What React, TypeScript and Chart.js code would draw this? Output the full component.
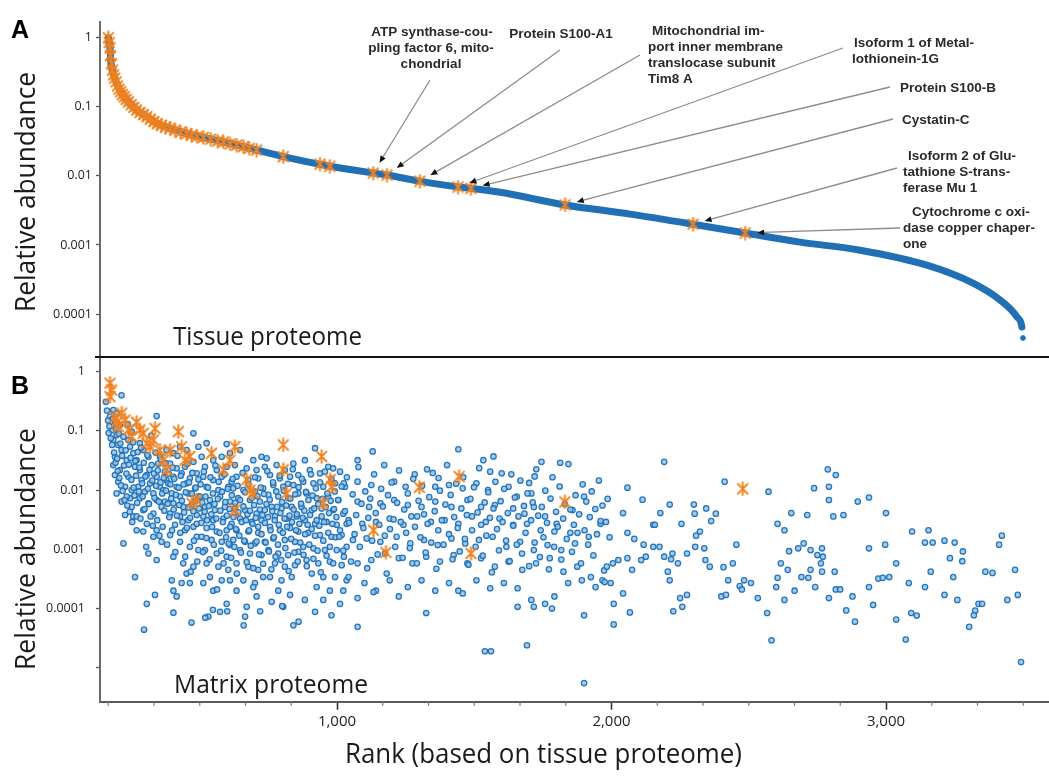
import React, { useEffect, useRef } from "react";
import { Chart, registerables } from "chart.js";

Chart.register(...registerables);

// ---------------- DATA ----------------
// Panel A: tissue proteome ranked abundance curve (rank, relative abundance)
const tissueRank = [167, 173, 176, 185, 197, 216, 240, 270, 307, 343, 392, 452, 513, 586, 659, 707, 804, 950, 1132, 1182, 1302, 1441, 1488, 1594, 1831, 2068, 2297, 2487, 2687, 2906, 3149, 3317, 3415, 3477, 3495, 3499];
const tissueAbundance = [1.0, 0.71, 0.45, 0.305, 0.219, 0.157, 0.119, 0.09, 0.072, 0.058, 0.049, 0.041, 0.036, 0.031, 0.0265, 0.0237, 0.019, 0.0144, 0.011, 0.0103, 0.0084, 0.0069, 0.0066, 0.0058, 0.0038, 0.0028, 0.002, 0.00149, 0.0011, 0.00084, 0.00051, 0.00028, 0.00016, 0.000091, 0.000065, 0.000045];

// Panel A: proteins marked with an asterisk (rank, abundance)
const tissueMarked: [number, number][] = [
  [167, 1.0], [170, 0.85], [173, 0.71], [175, 0.55], [178, 0.42], [182, 0.34], [186, 0.29], [190, 0.26], [195, 0.23], [200, 0.2],
  [206, 0.18], [212, 0.165], [218, 0.15], [225, 0.14], [232, 0.128], [240, 0.118], [250, 0.107], [260, 0.098], [270, 0.09], [282, 0.083],
  [295, 0.077], [307, 0.072], [320, 0.066], [333, 0.061], [345, 0.057], [360, 0.054], [375, 0.051], [392, 0.049], [410, 0.046], [430, 0.043],
  [452, 0.041], [470, 0.039], [490, 0.037], [513, 0.036], [540, 0.034], [565, 0.032], [586, 0.031], [610, 0.029], [635, 0.028], [659, 0.0265],
  [680, 0.025], [707, 0.0237], [804, 0.019], [938, 0.0148], [974, 0.0138],
];

// Panel A: labelled proteins
const labelledNames = [
  ["ATP synthase-cou-", "pling factor 6, mito-", "chondrial"],
  ["Protein S100-A1"],
  ["Mitochondrial im-", "port inner membrane", "translocase subunit", "Tim8 A"],
  ["Isoform 1 of Metal-", "lothionein-1G"],
  ["Protein S100-B"],
  ["Cystatin-C"],
  ["Isoform 2 of Glu-", "tathione S-trans-", "ferase Mu 1"],
  ["Cytochrome c oxi-", "dase copper chaper-", "one"],
];
const labelledRank = [1132, 1182, 1302, 1441, 1488, 1831, 2297, 2487];
const labelledAbundance = [0.011, 0.0103, 0.0084, 0.0069, 0.0066, 0.0038, 0.002, 0.00149];

// Panel B: matrix proteome (rank from tissue, abundance in matrix)
const matrixPoints: [number, number][] = [
  [215, 0.40], [185, 0.225], [197, 0.198], [173, 0.174], [191, 0.143], [209, 0.126], [179, 0.103], [197, 0.085], [222, 0.08], [185, 0.07],
  [203, 0.058], [215, 0.0475], [191, 0.0366], [234, 0.032], [185, 0.0265], [209, 0.0218], [191, 0.018], [240, 0.0168], [203, 0.0139], [228, 0.0114],
  [252, 0.01], [197, 0.0088], [246, 0.0073], [215, 0.0064], [228, 0.0038], [258, 0.0036], [264, 0.00034], [222, 0.00126], [270, 0.0021], [252, 0.0052],
  [234, 0.0078], [264, 0.0248], [258, 0.042], [246, 0.054], [240, 0.07], [252, 0.097],
  [343, 0.178], [282, 0.062], [294, 0.0475], [313, 0.0366], [270, 0.032], [325, 0.0265], [282, 0.0218], [307, 0.018], [343, 0.0168], [288, 0.0148],
  [276, 0.0114], [319, 0.013], [355, 0.0114], [300, 0.0094], [331, 0.0088], [367, 0.01], [282, 0.0073], [313, 0.006], [343, 0.0068], [373, 0.0064],
  [294, 0.0046], [331, 0.004], [361, 0.0052], [270, 0.0036], [307, 0.0027], [343, 0.0021], [294, 0.002], [331, 0.00163], [361, 0.00134], [313, 0.00085],
  [343, 0.00066], [307, 0.00012], [337, 0.00017], [379, 0.0475], [355, 0.0366], [373, 0.0205], [379, 0.0148], [349, 0.028], [297, 0.000044],
  [477, 0.091], [428, 0.054], [404, 0.042], [452, 0.0475], [495, 0.054], [392, 0.028], [416, 0.0233], [446, 0.0248], [477, 0.03], [404, 0.0168],
  [434, 0.0192], [464, 0.0158], [489, 0.0192], [385, 0.013], [416, 0.0114], [452, 0.013], [483, 0.0107], [398, 0.0088], [428, 0.0078], [458, 0.0088],
  [495, 0.0078], [404, 0.006], [440, 0.0052], [470, 0.0056], [392, 0.004], [428, 0.0036], [458, 0.0031], [489, 0.0038], [410, 0.0026], [446, 0.0021],
  [477, 0.0024], [392, 0.00174], [428, 0.00134], [464, 0.0011], [495, 0.00097], [404, 0.00075], [440, 0.00058], [477, 0.00051], [398, 0.0003], [434, 0.00027],
  [464, 0.00027], [416, 0.00016], [470, 0.000058], [404, 0.0002], [452, 0.00039], [489, 0.00163],
  [525, 0.062], [598, 0.06], [507, 0.0366], [549, 0.032], [580, 0.0366], [610, 0.042], [519, 0.0248], [562, 0.0218], [598, 0.0248], [513, 0.0168],
  [549, 0.0148], [580, 0.0168], [616, 0.0139], [525, 0.0114], [568, 0.01], [604, 0.0114], [501, 0.0078], [537, 0.0068], [574, 0.0078], [610, 0.0064],
  [519, 0.0052], [555, 0.0046], [592, 0.0052], [513, 0.0036], [549, 0.0031], [586, 0.0033], [616, 0.0027], [525, 0.0023], [562, 0.002], [598, 0.0021],
  [507, 0.00163], [543, 0.00144], [580, 0.00134], [610, 0.00118], [519, 0.00097], [562, 0.00085], [598, 0.00075], [525, 0.00058], [568, 0.00051], [604, 0.00045],
  [537, 0.00034], [580, 0.0003], [549, 0.0002], [598, 0.00012], [531, 0.000073], [574, 0.000088], [610, 0.0003], [513, 0.00027],
  [647, 0.0475], [695, 0.032], [725, 0.0366], [628, 0.0265], [671, 0.0233], [707, 0.0218], [737, 0.0248], [634, 0.0168], [677, 0.0148], [713, 0.0158],
  [622, 0.0107], [659, 0.01], [701, 0.0094], [731, 0.0107], [640, 0.0073], [683, 0.0068], [719, 0.0064], [628, 0.0049], [665, 0.0046], [707, 0.004],
  [737, 0.0046], [647, 0.0033], [689, 0.0029], [725, 0.0031], [634, 0.0021], [677, 0.002], [713, 0.0019], [622, 0.00144], [665, 0.00134], [701, 0.00126],
  [737, 0.00134], [647, 0.00097], [683, 0.00085], [725, 0.0008], [634, 0.00058], [677, 0.00051], [713, 0.00045], [659, 0.0003], [701, 0.00027], [731, 0.00034],
  [634, 0.0002], [671, 0.000107], [707, 0.00016], [665, 0.000073], [695, 0.00023],
  [744, 0.0344], [841, 0.028], [780, 0.0265], [810, 0.0218], [756, 0.018], [792, 0.0158], [829, 0.0168], [859, 0.018], [768, 0.0122], [804, 0.0114],
  [841, 0.0122], [750, 0.0083], [786, 0.0078], [822, 0.0073], [859, 0.0088], [762, 0.0052], [798, 0.0049], [835, 0.0052], [774, 0.0036], [816, 0.0033],
  [853, 0.0036], [756, 0.0024], [792, 0.0021], [829, 0.0023], [859, 0.002], [768, 0.00153], [810, 0.00144], [847, 0.00134], [750, 0.00097], [786, 0.00085],
  [822, 0.0008], [859, 0.00091], [774, 0.00058], [810, 0.00051], [847, 0.00054], [756, 0.00034], [798, 0.0003], [835, 0.00034], [786, 0.0002], [829, 0.00017],
  [841, 0.000052], [762, 0.00013], [804, 0.000107],
  [920, 0.051], [968, 0.0248], [986, 0.0233], [883, 0.032], [901, 0.0218], [938, 0.0192], [1011, 0.0205], [877, 0.0139], [914, 0.013], [950, 0.0114],
  [993, 0.013], [1029, 0.0114], [889, 0.0088], [926, 0.0073], [968, 0.0078], [1005, 0.0068], [871, 0.0052], [908, 0.0046], [944, 0.0049], [986, 0.0046],
  [1023, 0.004], [883, 0.0031], [920, 0.0027], [962, 0.0029], [999, 0.0026], [1035, 0.0027], [895, 0.0019], [938, 0.00174], [980, 0.00163], [1017, 0.00174],
  [877, 0.0011], [914, 0.00104], [956, 0.00097], [999, 0.00097], [1035, 0.0011], [889, 0.00066], [932, 0.00058], [974, 0.00062], [1017, 0.00054], [908, 0.00039],
  [950, 0.00034], [993, 0.00034], [1035, 0.0003], [926, 0.00023], [974, 0.0002], [1023, 0.0002], [920, 0.000088], [980, 0.000077], [883, 0.00014], [950, 0.00014],
  [1011, 0.00012],
  // extra readings, ranks 150-500
  [158, 0.31], [162, 0.22], [166, 0.15], [168, 0.092], [171, 0.12], [176, 0.075], [181, 0.058], [183, 0.16], [188, 0.043], [193, 0.029],
  [195, 0.11], [199, 0.034], [201, 0.021], [205, 0.09], [207, 0.016], [211, 0.061], [213, 0.012], [217, 0.038], [219, 0.0097], [224, 0.026],
  [226, 0.0068], [230, 0.047], [233, 0.019], [236, 0.0055], [238, 0.13], [242, 0.027], [245, 0.0043], [248, 0.035], [251, 0.015], [254, 0.0029],
  [257, 0.064], [259, 0.011], [262, 0.0081], [265, 0.031], [268, 0.0175], [272, 0.0061], [274, 0.044], [278, 0.0095], [280, 0.024], [284, 0.0033],
  [286, 0.052], [290, 0.013], [292, 0.0078], [296, 0.029], [299, 0.0048], [302, 0.017], [305, 0.0011], [309, 0.039], [311, 0.0105], [315, 0.0058],
  [317, 0.022], [321, 0.0036], [323, 0.083], [327, 0.0145], [329, 0.0025], [333, 0.019], [335, 0.0074], [339, 0.043], [341, 0.0118], [345, 0.0031],
  [347, 0.0215], [351, 0.0064], [353, 0.0017], [357, 0.0135], [359, 0.033], [363, 0.0088], [365, 0.0024], [369, 0.016], [371, 0.0045], [375, 0.0285],
  [377, 0.0098], [381, 0.0012], [383, 0.0059], [387, 0.019], [389, 0.0035], [393, 0.0125], [396, 0.0072], [399, 0.0021], [401, 0.024], [405, 0.0047],
  [407, 0.0155], [411, 0.0009], [413, 0.0083], [417, 0.0037], [419, 0.038], [423, 0.011], [425, 0.0056], [429, 0.0019], [431, 0.0175], [435, 0.0066],
  [437, 0.0029], [441, 0.0125], [443, 0.0042], [447, 0.00075], [449, 0.0092], [453, 0.0023], [455, 0.028], [459, 0.0051], [461, 0.0135], [465, 0.0034],
  [467, 0.00042], [471, 0.0087], [473, 0.0195], [477, 0.0044], [479, 0.0014], [483, 0.0065], [485, 0.011], [489, 0.0027], [491, 0.00062], [495, 0.0152],
  [497, 0.0049], [404, 0.000085], [520, 0.00007], [548, 0.000095], [600, 0.00009], [660, 0.000052], [720, 0.00009], [800, 0.00011], [860, 0.00006],
  // extra readings, ranks 500-1000
  [503, 0.0125], [506, 0.0028], [509, 0.0062], [512, 0.0009], [515, 0.0205], [518, 0.0043], [521, 0.0078], [524, 0.00155], [527, 0.0031], [530, 0.011],
  [533, 0.0054], [536, 0.00068], [539, 0.0165], [542, 0.0039], [545, 0.0024], [548, 0.0088], [551, 0.0012], [554, 0.0058], [557, 0.026], [560, 0.0033],
  [563, 0.00021], [566, 0.0071], [569, 0.0138], [572, 0.0019], [575, 0.0045], [578, 0.00095], [581, 0.0094], [584, 0.0029], [587, 0.00058], [590, 0.0185],
  [593, 0.0063], [596, 0.0016], [599, 0.0037], [602, 0.0105], [605, 0.00125], [608, 0.0048], [611, 0.0024], [614, 0.00072], [617, 0.0082], [620, 0.0155],
  [623, 0.0035], [626, 0.0011], [629, 0.0061], [632, 0.0022], [635, 0.00039], [638, 0.0118], [641, 0.0042], [644, 0.0017], [647, 0.0068], [650, 0.00088],
  [653, 0.0029], [656, 0.0195], [659, 0.0053], [662, 0.0014], [665, 0.0092], [668, 0.0031], [671, 0.00061], [674, 0.0039], [677, 0.0125], [680, 0.0021],
  [683, 0.0045], [686, 0.00115], [689, 0.0074], [692, 0.0027], [695, 0.00048], [698, 0.0056], [701, 0.0165], [704, 0.0034], [707, 0.00135], [710, 0.0079],
  [713, 0.0024], [716, 0.00082], [719, 0.0047], [722, 0.011], [725, 0.0018], [728, 0.0038], [731, 0.00057], [734, 0.0086], [737, 0.0028], [740, 0.0013],
  [743, 0.0058], [746, 0.021], [749, 0.0035], [752, 0.00092], [755, 0.0069], [758, 0.0021], [761, 0.00046], [764, 0.0044], [767, 0.0135], [770, 0.0016],
  [773, 0.0031], [776, 0.00075], [779, 0.0095], [782, 0.0052], [785, 0.0012], [788, 0.0026], [791, 0.0175], [794, 0.0041], [797, 0.00066], [800, 0.0063],
  [803, 0.0019], [806, 0.0098], [809, 0.0033], [812, 0.00105], [815, 0.0055], [818, 0.0024], [821, 0.0128], [824, 0.00043], [827, 0.0037], [830, 0.0072],
  [833, 0.0015], [836, 0.0029], [839, 0.0225], [842, 0.0047], [845, 0.00088], [848, 0.0085], [851, 0.0021], [854, 0.0039], [857, 0.00062], [860, 0.0112],
  [863, 0.0027], [866, 0.0013], [869, 0.0059], [872, 0.0155], [875, 0.0034], [878, 0.00081], [881, 0.0045], [884, 0.0018], [887, 0.0093], [890, 0.00052],
  [893, 0.0026], [896, 0.0068], [899, 0.0012], [902, 0.0038], [905, 0.0185], [908, 0.0022], [911, 0.0081], [914, 0.00069], [917, 0.0049], [920, 0.0017],
  [923, 0.0107], [926, 0.0031], [929, 0.00095], [932, 0.0058], [935, 0.0025], [938, 0.0135], [941, 0.00041], [944, 0.0036], [947, 0.0071], [950, 0.0014],
  [953, 0.0029], [956, 0.0205], [959, 0.0052], [962, 0.00078], [965, 0.0088], [968, 0.0019], [971, 0.0041], [974, 0.0011], [977, 0.0066], [980, 0.0155],
  [983, 0.0027], [986, 0.00058], [989, 0.0048], [992, 0.0095], [995, 0.0016], [998, 0.0035],
  // ranks 1000-2000
  [1075, 0.032], [1130, 0.045], [1172, 0.0265], [1283, 0.0185], [1328, 0.0224], [1370, 0.016], [1442, 0.049], [1533, 0.032], [1570, 0.037], [1558, 0.0205],
  [1600, 0.0192], [1745, 0.03], [1813, 0.029], [1720, 0.017], [1700, 0.0132], [1625, 0.0114], [1655, 0.0078], [1717, 0.0052], [1758, 0.0036], [1800, 0.0027],
  [1858, 0.0046], [1708, 0.0088], [1025, 0.013], [1075, 0.0139], [1125, 0.0122], [1208, 0.0139], [1250, 0.0114], [1358, 0.0114], [1408, 0.0122], [1458, 0.0107],
  [1508, 0.013], [1550, 0.01], [1075, 0.0064], [1117, 0.0052], [1158, 0.006], [1208, 0.0068], [1258, 0.0056], [1308, 0.0052], [1358, 0.0064], [1417, 0.0052],
  [1475, 0.0068], [1525, 0.0052], [1575, 0.0056], [1642, 0.0049], [1683, 0.004], [1042, 0.0031], [1092, 0.0027], [1142, 0.0029], [1192, 0.0033], [1242, 0.0026],
  [1292, 0.0036], [1342, 0.0029], [1392, 0.0031], [1442, 0.0027], [1492, 0.0036], [1542, 0.0029], [1592, 0.0033], [1642, 0.0026], [1692, 0.0027], [1742, 0.0021],
  [1792, 0.002], [1850, 0.0019], [1008, 0.00163], [1058, 0.00144], [1108, 0.00153], [1158, 0.00134], [1217, 0.00163], [1267, 0.00126], [1317, 0.00144], [1367, 0.00118],
  [1417, 0.00153], [1467, 0.00126], [1517, 0.00144], [1567, 0.00163], [1617, 0.0011], [1667, 0.00134], [1717, 0.00097], [1767, 0.00118], [1817, 0.00097], [1867, 0.00126],
  [1917, 0.00163], [1025, 0.00075], [1075, 0.00058], [1125, 0.00066], [1175, 0.00085], [1225, 0.00071], [1275, 0.00058], [1325, 0.00075], [1375, 0.00062], [1425, 0.0008],
  [1475, 0.00058], [1525, 0.00071], [1575, 0.00051], [1625, 0.00062], [1675, 0.00045], [1725, 0.00058], [1775, 0.00071], [1825, 0.00042], [1875, 0.00051], [1925, 0.00034],
  [1967, 0.0003], [1042, 0.00034], [1100, 0.00027], [1142, 0.0002], [1192, 0.0003], [1258, 0.00023], [1308, 0.0003], [1358, 0.0002], [1408, 0.00027], [1458, 0.00018],
  [1508, 0.0003], [1558, 0.00022], [1608, 0.00027], [1658, 0.00022], [1708, 0.00014], [1758, 0.00012], [1792, 0.00016], [1842, 0.00027], [1892, 0.0003], [1942, 0.00023],
  [1075, 0.00015], [1133, 0.00019], [1225, 0.00016], [1325, 0.000084], [1442, 0.0002], [1658, 0.000107], [1717, 0.000107], [1783, 0.0001], [1075, 0.000049],
  [1692, 0.000024], [1539, 0.000019], [1561, 0.000019], [1900, 0.0000055], [1900, 0.000077], [1900, 0.0078],
  [1004, 0.0068], [1011, 0.0021], [1017, 0.0115], [1023, 0.00095], [1029, 0.0044], [1036, 0.0165], [1044, 0.0028], [1051, 0.00062], [1057, 0.0085], [1064, 0.0018],
  [1070, 0.0038], [1078, 0.0245], [1083, 0.0011], [1089, 0.0059], [1096, 0.0023], [1103, 0.0095], [1110, 0.00048], [1114, 0.0034], [1121, 0.0072], [1128, 0.0014],
  [1135, 0.0185], [1141, 0.0041], [1148, 0.00082], [1154, 0.0026], [1161, 0.0105], [1167, 0.0053], [1174, 0.0017], [1181, 0.00039], [1186, 0.0082], [1193, 0.0022],
  [1199, 0.0135], [1206, 0.0032], [1212, 0.0011], [1219, 0.0061], [1226, 0.0215], [1232, 0.0029], [1239, 0.00072], [1245, 0.0047], [1252, 0.0019], [1258, 0.0088],
  [1265, 0.00105], [1271, 0.0036], [1278, 0.0155], [1284, 0.0024], [1291, 0.00058], [1297, 0.0066], [1304, 0.0016], [1310, 0.0118], [1317, 0.0039], [1323, 0.00088],
  [1330, 0.0027], [1336, 0.0076], [1343, 0.0013], [1349, 0.0195], [1356, 0.0044], [1362, 0.00047], [1369, 0.0021], [1375, 0.0098], [1382, 0.0031], [1388, 0.0012],
  [1395, 0.0057], [1401, 0.0265], [1408, 0.0018], [1414, 0.0083], [1421, 0.00068], [1427, 0.0035], [1434, 0.0128], [1440, 0.0023], [1447, 0.00092], [1453, 0.0049],
  [1460, 0.0165], [1466, 0.0015], [1473, 0.0038], [1479, 0.00055], [1486, 0.0071], [1492, 0.0021], [1499, 0.0112], [1505, 0.0011], [1512, 0.0042], [1518, 0.0235],
  [1525, 0.0026], [1531, 0.00078], [1538, 0.0062], [1544, 0.0017], [1551, 0.0092], [1557, 0.0034], [1564, 0.00041], [1570, 0.0049], [1577, 0.0138], [1583, 0.0022],
  [1590, 0.00096], [1596, 0.0065], [1603, 0.0029], [1609, 0.0105], [1616, 0.0014], [1622, 0.0041], [1629, 0.00063], [1635, 0.0185], [1642, 0.0025], [1648, 0.0075],
  [1655, 0.0012], [1661, 0.0036], [1668, 0.0145], [1674, 0.00085], [1681, 0.0054], [1687, 0.0019], [1694, 0.0088], [1700, 0.00052], [1707, 0.0031], [1713, 0.0062],
  [1720, 0.0013], [1726, 0.0225], [1733, 0.0037], [1739, 0.00074], [1746, 0.0052], [1752, 0.0016], [1759, 0.0098], [1765, 0.0028], [1772, 0.00046], [1778, 0.0072],
  [1785, 0.0165], [1791, 0.0011], [1798, 0.0043], [1804, 0.0024], [1811, 0.0115], [1817, 0.00067], [1824, 0.0033], [1830, 0.0058], [1837, 0.0015], [1843, 0.0275],
  [1850, 0.0047], [1856, 0.00091], [1863, 0.0026], [1869, 0.0082], [1876, 0.0019], [1882, 0.0039], [1889, 0.00058], [1895, 0.0125], [1902, 0.0021], [1908, 0.0064],
  [1915, 0.0012], [1921, 0.0035], [1928, 0.0095], [1934, 0.00079], [1941, 0.0048], [1947, 0.0018], [1954, 0.0145], [1960, 0.0027], [1967, 0.0055], [1973, 0.00044],
  [1980, 0.0029], [1986, 0.0071], [1993, 0.0016],
  // ranks 2000-3500
  [2192, 0.03], [2412, 0.0139], [2572, 0.0094], [2738, 0.0108], [2788, 0.0224], [2817, 0.018], [2792, 0.0114], [2792, 0.0068], [2897, 0.0064], [2938, 0.0075],
  [3000, 0.0041], [2845, 0.0038], [2808, 0.0036], [2655, 0.0041], [2713, 0.0038], [2605, 0.0027], [2630, 0.0021], [2058, 0.011], [2113, 0.0069], [2212, 0.0057],
  [2178, 0.0041], [2300, 0.0057], [2303, 0.004], [2345, 0.0049], [2380, 0.004], [2363, 0.003], [2255, 0.0027], [2152, 0.0026], [2042, 0.0041], [1960, 0.003],
  [3095, 0.002], [3155, 0.0021], [3142, 0.0013], [3170, 0.0013], [3213, 0.0014], [3250, 0.0013], [3280, 0.00092], [3233, 0.00071], [3278, 0.00063], [3422, 0.0017],
  [3412, 0.0012], [3163, 0.00042], [3245, 0.00034], [3362, 0.00042], [3388, 0.0004], [3470, 0.00045], [3480, 0.00017], [3442, 0.00014], [3337, 0.00012], [3350, 0.00012],
  [3325, 0.000092], [3320, 0.000077], [3303, 0.000049], [3260, 0.00014], [3213, 0.00017], [3142, 0.00023], [3083, 0.00027], [3112, 0.000076], [3092, 0.000084], [3037, 0.00058],
  [2997, 0.0012], [2938, 0.00104], [3037, 0.000065], [3072, 0.00003], [2953, 0.000115], [2938, 0.00023], [2972, 0.00032], [2988, 0.00033], [3012, 0.00034], [2878, 0.00016],
  [2855, 0.000093], [2887, 0.00006], [2817, 0.00021], [2833, 0.00021], [2792, 0.00015], [2742, 0.00023], [2717, 0.00033], [2692, 0.00034], [2725, 0.00045], [2767, 0.00042],
  [2813, 0.00042], [2763, 0.00058], [2767, 0.00104], [2750, 0.0008], [2770, 0.00075], [2725, 0.00097], [2700, 0.00126], [2680, 0.00104], [2647, 0.00093], [2617, 0.00058],
  [2642, 0.00045], [2605, 0.00033], [2600, 0.00023], [2630, 0.00014], [2667, 0.0002], [2567, 0.000084], [2583, 0.000029], [2533, 0.00015], [2508, 0.00027], [2483, 0.0003],
  [2467, 0.00024], [2475, 0.00021], [2455, 0.0012], [2400, 0.00016], [2417, 0.00017], [2425, 0.0003], [2408, 0.0005], [2442, 0.00058], [2358, 0.00051], [2342, 0.00066],
  [2338, 0.00104], [2308, 0.0017], [2322, 0.002], [2305, 0.0011], [2275, 0.00085], [2242, 0.00058], [2212, 0.0003], [2222, 0.00085], [2217, 0.00068], [2205, 0.00042],
  [2192, 0.00075], [2175, 0.0011], [2152, 0.0011], [2125, 0.00075], [2108, 0.00066], [2075, 0.00045], [2058, 0.00071], [2025, 0.00066], [2005, 0.00058], [1983, 0.00051],
  [1997, 0.00027], [1975, 0.00028], [2042, 0.00018], [2008, 0.00012], [2067, 0.000086], [2008, 0.000054], [2083, 0.0015], [2058, 0.0019], [2117, 0.0012], [2158, 0.0026],
  [2250, 0.00015], [2225, 0.00009], [2258, 0.000107], [2275, 0.00017], [3492, 0.0000125],
];

// Panel B: proteins marked with an asterisk
const matrixMarked: [number, number][] = [
  [173, 0.64], [179, 0.49], [173, 0.38], [191, 0.17], [197, 0.14], [203, 0.118], [216, 0.2], [228, 0.153], [240, 0.104], [252, 0.08],
  [270, 0.14], [282, 0.104], [294, 0.091], [307, 0.062], [319, 0.054], [331, 0.07], [337, 0.11], [355, 0.047], [367, 0.032], [380, 0.022],
  [392, 0.047], [422, 0.097], [434, 0.054], [446, 0.032], [464, 0.037], [471, 0.006], [489, 0.0068], [543, 0.042], [586, 0.022], [610, 0.032],
  [628, 0.054], [628, 0.0046], [671, 0.015], [683, 0.01], [695, 0.0089], [804, 0.058], [804, 0.022], [817, 0.0089], [944, 0.037], [950, 0.006],
  [975, 0.015], [981, 0.0115], [1133, 0.0021], [1178, 0.00089], [1300, 0.0112], [1445, 0.017], [1488, 0.00085], [1830, 0.0063], [2478, 0.0105],
];

const abundanceTickValues = [1, 0.1, 0.01, 0.001, 0.0001];
const abundanceTickLabels = ["1", "0.1", "0.01", "0.001", "0.0001"];
const rankTickValues = [1000, 2000, 3000];
const rankTickLabels = ["1,000", "2,000", "3,000"];

// ---------------- LAYOUT (pixels) ----------------
const W = 1049;
const H = 776;
const PLOT_LEFT = 100;
const PLOT_TOP = 22;
const PANEL_SPLIT = 357;
const PLOT_BOTTOM = 701.7;

// annotation text layout: per line [x, baselineY], align, arrow tail
const labelLayout = [
  { align: "center", pos: [[432, 36], [431, 52], [431, 68]], tail: [430, 80] },
  { align: "center", pos: [[561, 38]], tail: [560, 50] },
  { align: "left", pos: [[652, 35], [648, 51], [648, 67], [648, 83]], tail: [640, 55] },
  { align: "left", pos: [[854, 47], [852, 63]], tail: [843, 48] },
  { align: "left", pos: [[900, 92]], tail: [890, 87] },
  { align: "left", pos: [[902, 124]], tail: [893, 119] },
  { align: "left", pos: [[908, 160], [903, 176], [903, 192]], tail: [897, 168] },
  { align: "left", pos: [[912, 216], [903, 232], [903, 248]], tail: [900, 228] },
];

const ORANGE = "#f0811e";
const BLUE_LINE = "#2170b6";

function makeStar(size: number, lw: number, color: string) {
  const c = document.createElement("canvas");
  c.width = size;
  c.height = size;
  const g = c.getContext("2d")!;
  g.strokeStyle = color;
  g.lineWidth = lw;
  g.lineCap = "round";
  const m = size / 2;
  const r = size / 2 - lw / 2 - 0.3;
  g.beginPath();
  g.moveTo(m, m - r);
  g.lineTo(m, m + r);
  const d = r * 0.78;
  g.moveTo(m - d, m - d);
  g.lineTo(m + d, m + d);
  g.moveTo(m + d, m - d);
  g.lineTo(m - d, m + d);
  g.stroke();
  return c;
}

function drawStretched(
  ctx: CanvasRenderingContext2D,
  text: string,
  x: number,
  y: number,
  font: string,
  targetW: number | null,
  align: CanvasTextAlign,
  rotate = 0
) {
  ctx.save();
  ctx.font = font;
  const w = ctx.measureText(text).width;
  const sx = targetW ? targetW / w : 1;
  ctx.translate(x, y);
  if (rotate) ctx.rotate(rotate);
  ctx.scale(sx, 1);
  ctx.textAlign = align;
  ctx.textBaseline = "alphabetic";
  ctx.fillText(text, 0, 0);
  ctx.restore();
}

const decadeTicks = (s: any) => {
  const t: any[] = [];
  for (let k = 1; k >= -6; k--) {
    const v = Math.pow(10, k);
    if (v >= s.min * 0.999 && v <= s.max * 1.001) t.push({ value: v });
  }
  s.ticks = t;
};

const decadeLabel = (v: any) => {
  const i = abundanceTickValues.findIndex((a) => Math.abs(a - Number(v)) / a < 1e-6);
  return i >= 0 ? abundanceTickLabels[i] : "";
};

const zeroPad = (s: any) => {
  s.paddingLeft = 0;
  s.paddingRight = 0;
  s.paddingTop = 0;
  s.paddingBottom = 0;
};

const overlayPlugin = {
  id: "overlay",
  afterDatasetsDraw(chart: any) {
    const ctx: CanvasRenderingContext2D = chart.ctx;
    const x = chart.scales.x;
    const yA = chart.scales.yA;
    labelledRank.forEach((r, i) => {
      const sx = x.getPixelForValue(r);
      const sy = yA.getPixelForValue(labelledAbundance[i]);
      const [tx, ty] = labelLayout[i].tail;
      const dx = tx - sx;
      const dy = ty - sy;
      const L = Math.hypot(dx, dy);
      const ux = dx / L;
      const uy = dy / L;
      const tipX = sx + ux * 12;
      const tipY = sy + uy * 12;
      ctx.save();
      ctx.strokeStyle = "#8c8c8c";
      ctx.lineWidth = 1.3;
      ctx.beginPath();
      ctx.moveTo(tx, ty);
      ctx.lineTo(tipX + ux * 5, tipY + uy * 5);
      ctx.stroke();
      const bx = tipX + ux * 7;
      const by = tipY + uy * 7;
      ctx.fillStyle = "#111";
      ctx.beginPath();
      ctx.moveTo(tipX, tipY);
      ctx.lineTo(bx - uy * 3, by + ux * 3);
      ctx.lineTo(bx + uy * 3, by - ux * 3);
      ctx.closePath();
      ctx.fill();
      ctx.restore();
    });
  },
  afterDraw(chart: any) {
    const ctx: CanvasRenderingContext2D = chart.ctx;
    const x = chart.scales.x;
    const yA = chart.scales.yA;
    const area = chart.chartArea;
    ctx.save();
    ctx.strokeStyle = "#111";
    ctx.lineWidth = 2;
    ctx.beginPath();
    ctx.moveTo(95, yA.bottom);
    ctx.lineTo(W, yA.bottom);
    ctx.stroke();
    ctx.strokeStyle = "#777";
    ctx.lineWidth = 1.2;
    x.ticks.forEach((t: any) => {
      if (t.value % 1000 === 0) return;
      const px = x.getPixelForValue(t.value);
      ctx.beginPath();
      ctx.moveTo(px, area.bottom);
      ctx.lineTo(px, area.bottom + 4);
      ctx.stroke();
    });
    ctx.fillStyle = "#2a2a2a";
    labelledNames.forEach((lines, i) => {
      const lay = labelLayout[i];
      lines.forEach((ln, j) => {
        const [px, py] = lay.pos[j];
        drawStretched(ctx, ln, px, py, "bold 13.5px 'Liberation Sans', Arial, sans-serif", null, lay.align as CanvasTextAlign);
      });
    });
    ctx.fillStyle = "#000";
    drawStretched(ctx, "A", 11, 38, "bold 25px 'Liberation Sans', Arial, sans-serif", null, "left");
    drawStretched(ctx, "B", 11, 394, "bold 25px 'Liberation Sans', Arial, sans-serif", null, "left");
    ctx.fillStyle = "#1a1a1a";
    const tf = "27px 'Open Sans', sans-serif";
    drawStretched(ctx, "Relative abundance", 35, 192, tf, 240, "center", -Math.PI / 2);
    drawStretched(ctx, "Relative abundance", 35, 549, tf, 242, "center", -Math.PI / 2);
    drawStretched(ctx, "Tissue proteome", 173, 345, "25px 'Open Sans', sans-serif", 189, "left");
    drawStretched(ctx, "Matrix proteome", 174, 693, "25px 'Open Sans', sans-serif", 194, "left");
    drawStretched(ctx, "Rank (based on tissue proteome)", 345, 763, tf, 397, "left");
    ctx.restore();
  },
};

export default function App() {
  const ref = useRef<HTMLCanvasElement | null>(null);

  useEffect(() => {
    const canvas = ref.current;
    if (!canvas) return;
    const starA = makeStar(15, 2, ORANGE);
    const starB = makeStar(15, 2, ORANGE);

    const tissueLine = tissueRank.map((r, i) => ({ x: r, y: tissueAbundance[i] }));
    const lastIdx = tissueLine.length - 1;
    const tissueStars = tissueMarked
      .map(([r, a]) => ({ x: r, y: a }))
      .concat(labelledRank.map((r, i) => ({ x: r, y: labelledAbundance[i] })));

    const chart = new Chart(canvas, {
      type: "scatter",
      data: {
        datasets: [
          {
            type: "scatter",
            data: tissueStars,
            xAxisID: "x",
            yAxisID: "yA",
            pointStyle: starA as any,
            pointRadius: 7,
            order: 0,
          },
          {
            type: "line",
            data: tissueLine,
            xAxisID: "x",
            yAxisID: "yA",
            borderColor: BLUE_LINE,
            borderWidth: 7,
            borderCapStyle: "round",
            borderJoinStyle: "round",
            cubicInterpolationMode: "monotone",
            pointRadius: (c: any) => (c.dataIndex === lastIdx ? 2.4 : 0),
            pointBorderWidth: 1,
            pointBackgroundColor: BLUE_LINE,
            pointBorderColor: BLUE_LINE,
            segment: {
              borderColor: (c: any) => (c.p1DataIndex === lastIdx ? "rgba(0,0,0,0)" : BLUE_LINE),
            },
            order: 2,
          } as any,
          {
            type: "scatter",
            data: matrixMarked.map(([r, a]) => ({ x: r, y: a })),
            xAxisID: "x",
            yAxisID: "yB",
            pointStyle: starB as any,
            pointRadius: 7,
            order: 0,
          },
          {
            type: "scatter",
            data: matrixPoints.map(([r, a]) => ({ x: r, y: a })),
            xAxisID: "x",
            yAxisID: "yB",
            pointStyle: "circle",
            pointRadius: 2.7,
            borderWidth: 1.3,
            pointBorderColor: "rgba(30,112,184,0.95)",
            pointBackgroundColor: "rgba(150,195,232,0.85)",
            order: 1,
          },
        ],
      },
      options: {
        responsive: false,
        animation: false,
        devicePixelRatio: 1,
        layout: { autoPadding: false, padding: { top: PLOT_TOP, left: 0, right: 0, bottom: 0 } },
        plugins: { legend: { display: false }, tooltip: { enabled: false } },
        scales: {
          x: {
            type: "linear",
            position: "bottom",
            min: 136.6,
            max: 3593.8,
            afterBuildTicks: (s: any) => {
              const t: any[] = [];
              for (let k = 1; k <= 21; k++) t.push({ value: (k * 1000) / 6 });
              s.ticks = t;
            },
            afterFit: (s: any) => {
              s.height = H - PLOT_BOTTOM;
              zeroPad(s);
            },
            grid: {
              drawOnChartArea: false,
              tickLength: 8,
              tickWidth: 1.6,
              tickColor: (c: any) => (c.tick && c.tick.value % 1000 === 0 ? "#333" : "rgba(0,0,0,0)"),
            },
            border: { color: "#5a5a5a", width: 2 },
            ticks: {
              autoSkip: false,
              maxRotation: 0,
              padding: 3,
              color: "#222",
              font: { family: "'Open Sans', sans-serif", size: 15 },
              callback: (v: any) => {
                const i = rankTickValues.indexOf(Number(v));
                return i >= 0 ? rankTickLabels[i] : "";
              },
            },
          },
          yA: {
            type: "logarithmic",
            position: "left",
            stack: "panels",
            stackWeight: PANEL_SPLIT - PLOT_TOP,
            weight: 2,
            min: 0.0000239,
            max: 1.69,
            afterBuildTicks: decadeTicks,
            afterFit: (s: any) => {
              s.width = PLOT_LEFT;
              zeroPad(s);
            },
            grid: { drawOnChartArea: false, tickLength: 4, tickColor: "#555", tickWidth: 1.3 },
            border: { color: "#6a6a6a", width: 2 },
            ticks: {
              autoSkip: false,
              padding: 4,
              color: "#222",
              font: { family: "'Open Sans', sans-serif", size: 12.5 },
              callback: decadeLabel,
            },
          },
          yB: {
            type: "logarithmic",
            position: "left",
            stack: "panels",
            stackWeight: PLOT_BOTTOM - PANEL_SPLIT,
            weight: 1,
            min: 0.00000267,
            max: 1.77,
            afterBuildTicks: decadeTicks,
            afterFit: (s: any) => {
              s.width = PLOT_LEFT;
              zeroPad(s);
            },
            grid: { drawOnChartArea: false, tickLength: 4, tickColor: "#555", tickWidth: 1.3 },
            border: { color: "#6a6a6a", width: 2 },
            ticks: {
              autoSkip: false,
              padding: 11,
              color: "#222",
              font: { family: "'Open Sans', sans-serif", size: 12.5 },
              callback: decadeLabel,
            },
          },
        } as any,
      },
      plugins: [overlayPlugin],
    });
    return () => chart.destroy();
  }, []);

  return (
    <div style={{ position: "fixed", left: 0, top: 0, width: W, height: H, background: "#fff" }}>
      <canvas ref={ref} width={W} height={H} style={{ width: W, height: H, display: "block" }} />
    </div>
  );
}
